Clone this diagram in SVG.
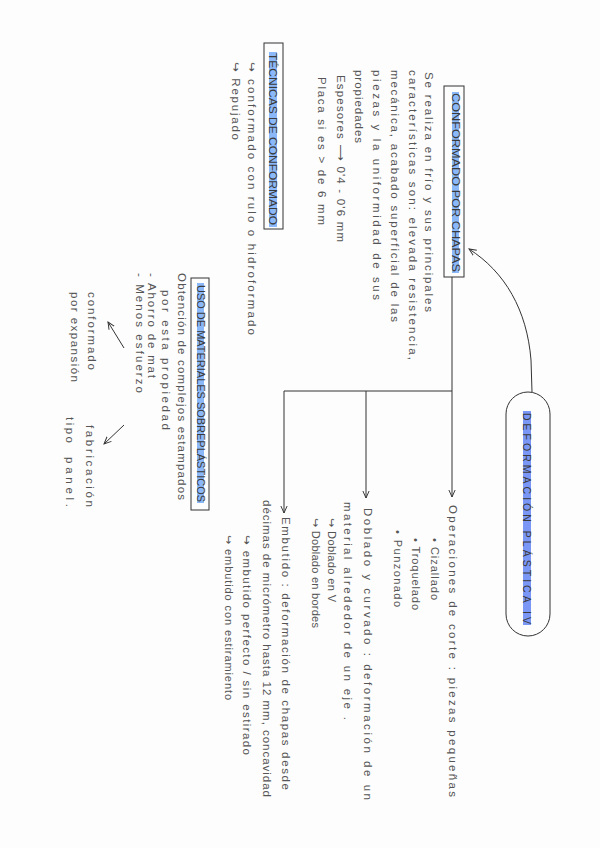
<svg xmlns="http://www.w3.org/2000/svg" width="600" height="848" viewBox="0 0 600 848">
<defs>
<style>
.t{font-family:"Liberation Sans","DejaVu Sans",sans-serif;font-size:11.5px;fill:#555;dominant-baseline:central}
.s{font-size:11px}
.h{font-family:"Liberation Sans","DejaVu Sans",sans-serif;font-size:10.5px;fill:#3a3a3a;dominant-baseline:central}
.ln{fill:none;stroke:#333;stroke-width:1}
.box{fill:none;stroke:#333;stroke-width:1}
.hl{fill:#8bb8f8}
</style>
<marker id="ah" viewBox="0 0 10 10" refX="9" refY="5" markerWidth="8" markerHeight="8" orient="auto" markerUnits="userSpaceOnUse">
<path d="M0,1 L9,5 L0,9" fill="none" stroke="#333" stroke-width="1.2"/>
</marker>
</defs>
<rect width="600" height="848" fill="#fdfdfd"/>

<g id="connectors">
<path class="ln" d="M532,392 L531,360 C527,310 505,272 469,249" marker-end="url(#ah)"/>
<path class="ln" d="M452,277 L452,497" marker-end="url(#ah)"/>
<path class="ln" d="M452,391 L284,391"/>
<path class="ln" d="M366,391 L366,498" marker-end="url(#ah)"/>
<path class="ln" d="M284,391 L284,513" marker-end="url(#ah)"/>
<path class="ln" d="M124,348 L108,322" marker-end="url(#ah)"/>
<path class="ln" d="M124,425 L104,444" marker-end="url(#ah)"/>
</g>

<g id="deformacion">
<rect class="box" x="506" y="392" width="44" height="244" rx="22"/>
<rect x="523" y="411" width="8" height="214" fill="#7b97f6"/>
<text class="h" transform="translate(527,413) rotate(90)" textLength="211" lengthAdjust="spacing">DEFORMACIÓN PLÁSTICA IV</text>
</g>

<g id="conformado-chapas">
<rect class="box" x="444" y="86" width="20" height="191"/>
<rect class="hl" x="452" y="92" width="7" height="181"/>
<text class="h" transform="translate(455.5,93) rotate(90)" textLength="179" lengthAdjust="spacingAndGlyphs">CONFORMADO POR CHAPAS</text>
</g>

<g id="conformado-texto">
<text class="t" transform="translate(429,72) rotate(90)" textLength="240" lengthAdjust="spacing">Se realiza en frío y sus principales</text>
<text class="t" transform="translate(413,70) rotate(90)" textLength="290" lengthAdjust="spacing">características son: elevada resistencia,</text>
<text class="t" transform="translate(395,70) rotate(90)" textLength="252" lengthAdjust="spacing">mecánica, acabado superficial de las</text>
<text class="t" transform="translate(377,70) rotate(90)" textLength="230" lengthAdjust="spacing">piezas y la uniformidad de sus</text>
<text class="t" transform="translate(359,70) rotate(90)" textLength="73" lengthAdjust="spacing">propiedades</text>
<text class="t" transform="translate(341,75) rotate(90)" textLength="167" lengthAdjust="spacing">Espesores ⟶ 0'4 - 0'6 mm</text>
<text class="t" transform="translate(322,77) rotate(90)" textLength="148" lengthAdjust="spacing">Placa si es &gt; de 6 mm</text>
</g>

<g id="tecnicas">
<rect class="box" x="264" y="43" width="19" height="186"/>
<rect class="hl" x="269" y="52" width="8" height="175"/>
<text class="h" transform="translate(273,53) rotate(90)" textLength="172" lengthAdjust="spacingAndGlyphs">TÉCNICAS DE CONFORMADO</text>
</g>

<g id="tecnicas-texto">
<text class="t" transform="translate(252,62) rotate(90)" textLength="273" lengthAdjust="spacing">↪ conformado con rulo o hidroformado</text>
<text class="t" transform="translate(236,62) rotate(90)" textLength="78" lengthAdjust="spacing">↪ Repujado</text>
</g>

<g id="uso-materiales">
<rect class="box" x="191" y="278" width="18" height="232"/>
<rect class="hl" x="197" y="283" width="7" height="220"/>
<text class="h" transform="translate(200.5,285) rotate(90)" textLength="217" lengthAdjust="spacingAndGlyphs">USO DE MATERIALES SOBREPLÁSTICOS</text>
</g>

<g id="uso-texto">
<text class="t" transform="translate(182,273) rotate(90)" textLength="227" lengthAdjust="spacing">Obtención de complejos estampados</text>
<text class="t" transform="translate(166,290) rotate(90)" textLength="140" lengthAdjust="spacing">por esta propiedad</text>
<text class="t" transform="translate(152,273) rotate(90)" textLength="105" lengthAdjust="spacing">- Ahorro de mat</text>
<text class="t" transform="translate(140,273) rotate(90)" textLength="120" lengthAdjust="spacing">- Menos esfuerzo</text>
</g>

<g id="conformado-expansion">
<text class="t" transform="translate(92,292) rotate(90)" textLength="78" lengthAdjust="spacing">conformado</text>
<text class="t" transform="translate(75,292) rotate(90)" textLength="90" lengthAdjust="spacing">por expansión</text>
</g>

<g id="fabricacion-panel">
<text class="t" transform="translate(90,425) rotate(90)" textLength="82" lengthAdjust="spacing">fabricación</text>
<text class="t" transform="translate(70,417) rotate(90)" textLength="26" lengthAdjust="spacing">tipo</text>
<text class="t" transform="translate(70,457) rotate(90)" textLength="50" lengthAdjust="spacing">panel.</text>
</g>

<g id="corte">
<text class="t" transform="translate(453,505) rotate(90)" textLength="292" lengthAdjust="spacing">Operaciones de corte : piezas pequeñas</text>
<text class="t s" transform="translate(435,538) rotate(90)" textLength="62" lengthAdjust="spacing">• Cizallado</text>
<text class="t s" transform="translate(416,538) rotate(90)" textLength="72" lengthAdjust="spacing">• Troquelado</text>
<text class="t s" transform="translate(398,530) rotate(90)" textLength="77" lengthAdjust="spacing">• Punzonado</text>
</g>

<g id="doblado">
<text class="t" transform="translate(368,508) rotate(90)" textLength="292" lengthAdjust="spacing">Doblado y curvado : deformación de un</text>
<text class="t" transform="translate(348,502) rotate(90)" textLength="218" lengthAdjust="spacing">material alrededor de un eje .</text>
<text class="t s" transform="translate(332,518) rotate(90)" textLength="84" lengthAdjust="spacing">↪ Doblado en V</text>
<text class="t s" transform="translate(316,518) rotate(90)" textLength="110" lengthAdjust="spacing">↪ Doblado en bordes</text>
</g>

<g id="embutido">
<text class="t" transform="translate(286,517) rotate(90)" textLength="273" lengthAdjust="spacing">Embutido : deformación de chapas desde</text>
<text class="t" transform="translate(267,500) rotate(90)" textLength="297" lengthAdjust="spacing">décimas de micrómetro hasta 12 mm, concavidad</text>
<text class="t" transform="translate(247,535) rotate(90)" textLength="220" lengthAdjust="spacing">↪ embutido perfecto / sin estirado</text>
<text class="t s" transform="translate(229,535) rotate(90)" textLength="165" lengthAdjust="spacing">↪ embutido con estiramiento</text>
</g>
</svg>
